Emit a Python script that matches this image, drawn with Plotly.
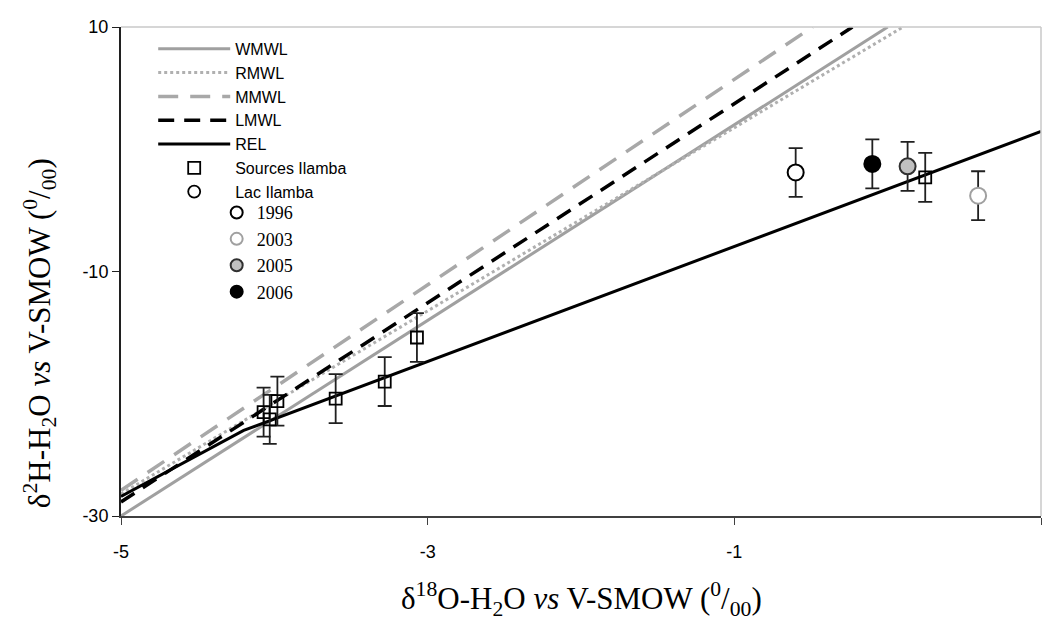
import plotly.graph_objects as go

# Reference lines
wmwl_x = [-5.0, 0.0]
wmwl_y = [-30.0, 10.0]
rmwl_x = [-5.0, 0.1]
rmwl_y = [-28.2, 10.0]
mmwl_x = [-5.0, -0.49]
mmwl_y = [-27.9, 10.0]
lmwl_x = [-5.0, -0.23]
lmwl_y = [-28.85, 10.0]
rel_x = [-5.0, -4.2, 1.0]
rel_y = [-28.4, -23.0, 1.45]

# Sources Ilamba
src_x = [-4.07, -4.03, -3.98, -3.60, -3.28, -3.07, 0.245]
src_y = [-21.5, -22.1, -20.6, -20.4, -19.0, -15.4, -2.3]
src_err = [2.0, 2.0, 2.0, 2.0, 2.0, 2.0, 2.0]

# Lac Ilamba by year
years = ["1996", "2003", "2005", "2006"]
lac_x = [-0.60, 0.59, 0.13, -0.10]
lac_y = [-1.9, -3.8, -1.4, -1.2]
lac_err = [2.0, 2.0, 2.0, 2.0]
lac_fill = ["white", "white", "#c0c0c0", "black"]
lac_edge = ["black", "#a0a0a0", "#303030", "black"]

x_ticks = [-5, -3, -1, 1]
y_ticks = [-30, -10, 10]

fig = go.Figure()
lg = dict(legend="legend")
fig.add_trace(go.Scatter(x=wmwl_x, y=wmwl_y, mode="lines", name="WMWL",
                         line=dict(color="#a0a0a0", width=3), **lg))
fig.add_trace(go.Scatter(x=rmwl_x, y=rmwl_y, mode="lines", name="RMWL",
                         line=dict(color="#b0b0b0", width=3, dash="dot"), **lg))
fig.add_trace(go.Scatter(x=mmwl_x, y=mmwl_y, mode="lines", name="MMWL",
                         line=dict(color="#a8a8a8", width=3.5, dash="20px,12px"), **lg))
fig.add_trace(go.Scatter(x=lmwl_x, y=lmwl_y, mode="lines", name="LMWL",
                         line=dict(color="black", width=3.5, dash="16px,10px"), **lg))
fig.add_trace(go.Scatter(x=rel_x, y=rel_y, mode="lines", name="REL",
                         line=dict(color="black", width=3), **lg))
fig.add_trace(go.Scatter(x=src_x, y=src_y, mode="markers", name="Sources Ilamba",
                         marker=dict(symbol="square", size=12, color="rgba(255,255,255,0)",
                                     line=dict(color="black", width=1.8)),
                         error_y=dict(type="data", array=src_err, color="#202020",
                                      thickness=1.8, width=7), **lg))
fig.add_trace(go.Scatter(x=[None], y=[None], mode="markers", name="Lac Ilamba",
                         marker=dict(symbol="circle", size=12, color="white",
                                     line=dict(color="black", width=1.8)), **lg))
for i, yr in enumerate(years):
    fig.add_trace(go.Scatter(
        x=[lac_x[i]], y=[lac_y[i]], mode="markers", name=yr, legend="legend2",
        marker=dict(symbol="circle", size=16, color=lac_fill[i],
                    line=dict(color=lac_edge[i], width=2)),
        error_y=dict(type="data", array=[lac_err[i]], color="#202020",
                     thickness=1.8, width=7)))

tickfont = dict(family="Liberation Sans, Arial", size=18, color="black")
times = "Liberation Serif, Times New Roman"

xtitle = "δ<sup>18</sup>O-H<sub>2</sub>O <i>vs</i> V-SMOW (<sup>0</sup>/<sub>00</sub>)"
ytitle = "δ<sup>2</sup>H-H<sub>2</sub>O <i>vs</i> V-SMOW (<sup>0</sup>/<sub>00</sub>)"

fig.update_layout(
    width=1043, height=624,
    margin=dict(l=121, r=2, t=27, b=108),
    paper_bgcolor="white", plot_bgcolor="white",
    showlegend=True,
    legend=dict(x=0.035, y=0.99, xanchor="left", yanchor="top",
                bgcolor="rgba(0,0,0,0)", itemwidth=72, tracegroupgap=0,
                font=dict(family="Liberation Sans, Arial", size=16, color="black")),
    legend2=dict(x=0.104, y=0.658, xanchor="left", yanchor="top",
                 bgcolor="rgba(0,0,0,0)", itemwidth=30, tracegroupgap=0,
                 itemsizing="constant",
                 font=dict(family=times, size=18, color="black")),
    xaxis=dict(range=[-5, 1], tickvals=x_ticks, ticktext=[str(v) for v in x_ticks],
               showgrid=False, zeroline=False, showline=True, linecolor="#404040",
               linewidth=2, ticks="outside", ticklen=7, tickcolor="#404040",
               ticklabelstandoff=11, tickfont=tickfont, mirror=False),
    yaxis=dict(range=[-30, 10], tickvals=y_ticks, ticktext=[str(v) for v in y_ticks],
               showgrid=False, zeroline=False, showline=True, linecolor="#202020",
               linewidth=2, ticks="outside", ticklen=7, tickcolor="#202020",
               tickfont=tickfont),
    annotations=[
        dict(text=xtitle, xref="paper", yref="paper", x=0.5, y=-0.17,
             xanchor="center", yanchor="middle", showarrow=False,
             font=dict(family=times, size=31, color="black")),
        dict(text=ytitle, xref="paper", yref="paper", x=-0.088, y=0.374,
             xanchor="center", yanchor="middle", showarrow=False, textangle=-90,
             font=dict(family=times, size=31, color="black")),
    ],
    shapes=[dict(type="line", xref="paper", yref="paper", x0=0, x1=1, y0=1, y1=1,
                 line=dict(color="#c8c8c8", width=1.5)),
            dict(type="line", xref="paper", yref="paper", x0=1, x1=1, y0=0, y1=1,
                 line=dict(color="#c8c8c8", width=1.5))],
)

fig.write_html("out.html", config={"displayModeBar": False},
               post_script="document.body.style.margin='0';")
